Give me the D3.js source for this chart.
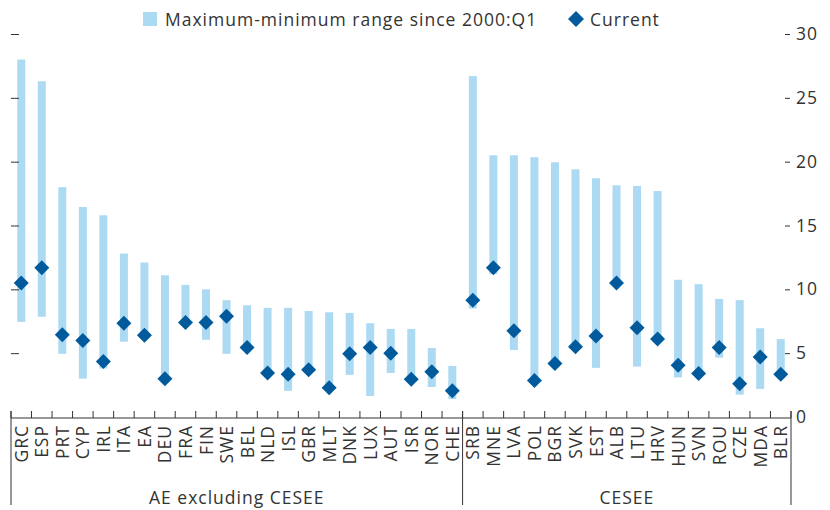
<!DOCTYPE html>
<html><head><meta charset="utf-8">
<script src="https://cdn.jsdelivr.net/npm/d3@7"></script>
<style>
html,body{margin:0;padding:0;background:#fff;}
text{font-family:"Open Sans","Noto Sans",sans-serif;fill:#333;letter-spacing:1px;}
</style></head>
<body><svg id="c" width="830" height="510"></svg>
<script>
const groupAE = ["GRC","ESP","PRT","CYP","IRL","ITA","EA","DEU","FRA","FIN","SWE","BEL","NLD","ISL","GBR","MLT","DNK","LUX","AUT","ISR","NOR","CHE"];
const groupCESEE = ["SRB","MNE","LVA","POL","BGR","SVK","EST","ALB","LTU","HRV","HUN","SVN","ROU","CZE","MDA","BLR"];
const categories = groupAE.concat(groupCESEE);
const rangeMax = [28.0,26.3,18.0,16.45,15.8,12.8,12.1,11.1,10.35,10.0,9.15,8.75,8.55,8.55,8.3,8.2,8.15,7.35,6.9,6.9,5.4,4.0,
                  26.7,20.5,20.5,20.35,19.95,19.4,18.7,18.15,18.1,17.7,10.75,10.4,9.25,9.15,6.95,6.1];
const rangeMin = [7.45,7.85,4.95,3.0,3.8,5.9,6.1,2.9,7.2,6.05,4.95,5.2,3.2,2.05,3.5,2.2,3.3,1.65,3.45,2.8,2.35,1.4,
                  8.5,11.2,5.25,2.7,4.0,5.3,3.85,10.3,3.95,5.9,3.1,3.2,4.65,1.75,2.2,3.2];
const current = [10.5,11.7,6.45,6.0,4.35,7.35,6.4,3.0,7.4,7.4,7.9,5.45,3.45,3.35,3.7,2.3,4.95,5.45,5.0,2.95,3.55,2.05,
                 9.15,11.7,6.75,2.85,4.2,5.5,6.35,10.5,7.0,6.1,4.05,3.4,5.45,2.6,4.7,3.35];
const yTicks = [0,5,10,15,20,25,30];
const groups = [{name:"AE excluding CESEE", members:groupAE},{name:"CESEE", members:groupCESEE}];
const legendLabels = ["Maximum-minimum range since 2000:Q1","Current"];

const barColor = "#acdaf3", dotColor = "#005a9c", axisColor = "#333";
const FS = 17.5;
const svg = d3.select("#c");
const L = 11, R = 791, Y0 = 417, Y30 = 34;
const x = d3.scaleBand().domain(categories).range([L, R]).paddingInner(0).paddingOuter(0);
const y = d3.scaleLinear().domain([0,30]).range([Y0, Y30]);
const bw = 8;

// bars
svg.append("g").selectAll("rect").data(categories).join("rect")
  .attr("x", d => x(d) + x.bandwidth()/2 - bw/2)
  .attr("width", bw)
  .attr("y", (d,i) => y(rangeMax[i]))
  .attr("height", (d,i) => y(rangeMin[i]) - y(rangeMax[i]))
  .attr("fill", barColor);

// diamonds
const dh = 7.5;
const diamond = (cx, cy, h) => `M${cx},${cy-h}L${cx+h},${cy}L${cx},${cy+h}L${cx-h},${cy}Z`;
svg.append("g").selectAll("path").data(categories).join("path")
  .attr("d", (d,i) => diamond(x(d) + x.bandwidth()/2, y(current[i]), dh))
  .attr("fill", dotColor);

// left axis ticks (no labels)
const yl = svg.append("g").attr("transform", `translate(${L},0)`)
  .call(d3.axisRight(y).tickValues(yTicks.filter(v=>v>0)).tickSize(8).tickFormat(""));
yl.select(".domain").remove();
yl.selectAll("line").attr("stroke", axisColor);

// right axis
const yr = svg.append("g").attr("transform", `translate(${R},0)`)
  .call(d3.axisRight(y).tickValues(yTicks).tickSize(0).tickPadding(5));
yr.select(".domain").remove();
yr.selectAll("text").attr("font-size", FS).attr("font-family",null).attr("fill","#333");
yr.selectAll(".tick").filter(d => d > 0).append("line")
  .attr("x1", -6).attr("x2", -1).attr("stroke", axisColor);

// x axis line and ticks at boundaries
const g = svg.append("g");
g.append("line").attr("x1", L).attr("x2", R).attr("y1", Y0+1).attr("y2", Y0+1).attr("stroke", axisColor);
const bounds = categories.map(c => x(c)).concat([R]);
g.selectAll("line.bt").data(bounds).join("line").attr("class","bt")
  .attr("x1", d => d).attr("x2", d => d).attr("y1", Y0-6).attr("y2", Y0+1).attr("stroke", axisColor);

// category labels
g.selectAll("text.cat").data(categories).join("text").attr("class","cat")
  .attr("transform", d => `translate(${x(d)+x.bandwidth()/2+6.5},${Y0+8}) rotate(-90)`)
  .attr("text-anchor","end").attr("font-size", FS).text(d => d);

// group separators and names
const gb = [L, x(groupCESEE[0]), R];
g.selectAll("line.gs").data(gb).join("line").attr("class","gs")
  .attr("x1", d => d).attr("x2", d => d).attr("y1", Y0-6).attr("y2", 505).attr("stroke", axisColor);
groups.forEach((gr) => {
  const a = x(gr.members[0]), b = x(gr.members[gr.members.length-1]) + x.bandwidth();
  g.append("text").attr("x", (a+b)/2).attr("y", 504).attr("text-anchor","middle")
    .attr("font-size", FS).text(gr.name);
});

// legend
const lg = svg.append("g");
lg.append("rect").attr("x", 143).attr("y", 12).attr("width", 14).attr("height", 14).attr("fill", barColor);
lg.append("text").attr("x", 165).attr("y", 25.5).attr("font-size", FS).text(legendLabels[0]);
lg.append("path").attr("d", diamond(576, 19, 8)).attr("fill", dotColor);
lg.append("text").attr("x", 590).attr("y", 25.5).attr("font-size", FS).text(legendLabels[1]);
</script></body></html>
